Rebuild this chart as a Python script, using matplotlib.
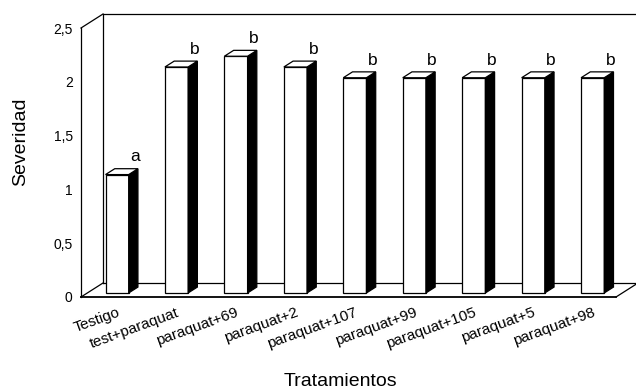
import matplotlib
matplotlib.use("Agg")
import matplotlib.pyplot as plt
from matplotlib.patches import Polygon, Rectangle

plt.rcParams['font.family'] = ['Liberation Sans', 'DejaVu Sans']

# datos
tratamientos = ["Testigo", "test+paraquat", "paraquat+69", "paraquat+2", "paraquat+107",
                "paraquat+99", "paraquat+105", "paraquat+5", "paraquat+98"]
severidad = [1.1, 2.1, 2.2, 2.1, 2.0, 2.0, 2.0, 2.0, 2.0]
letras = ["a", "b", "b", "b", "b", "b", "b", "b", "b"]
y_ticks = [0, 0.5, 1, 1.5, 2, 2.5]
y_tick_labels = ["0", "0,5", "1", "1,5", "2", "2,5"]

W, H = 636, 391
fig = plt.figure(figsize=(W / 100, H / 100), dpi=100)
ax = fig.add_axes([81 / W, 94 / H, 535 / W, 269 / H])
ax.set_xlim(-0.5, len(tratamientos) - 0.5)
ax.set_ylim(0, 2.5)

# fake 3d box depth (data units)
dx, dy = 0.37, 0.13
bw = 0.39          # bar front width
f0, f1 = 0.29, 0.71  # bar sits between these depth fractions
lw = 0.9
xr = len(tratamientos) - 0.5

# back wall + floor lines
wall = dict(color="black", lw=lw, clip_on=False, zorder=1)
ax.plot([-0.5 + dx, -0.5 + dx], [dy, 2.5 + dy], **wall)
ax.plot([-0.5 + dx, xr + dx], [2.5 + dy, 2.5 + dy], **wall)
ax.plot([-0.5, -0.5 + dx], [2.5, 2.5 + dy], **wall)
ax.plot([-0.5, -0.5 + dx], [0, dy], **wall)
ax.plot([-0.5 + dx, xr + dx], [dy, dy], **wall)
ax.plot([xr, xr + dx], [0, dy], **wall)

ddx, ddy = (f1 - f0) * dx, (f1 - f0) * dy
for i, v in enumerate(severidad):
    x0 = i - bw / 2 + f0 * dx
    y0 = f0 * dy
    ax.add_patch(Rectangle((x0, y0), bw, v, fc="white", ec="black", lw=lw, zorder=3))
    side = [(x0 + bw, y0), (x0 + bw + ddx, y0 + ddy), (x0 + bw + ddx, y0 + v + ddy), (x0 + bw, y0 + v)]
    ax.add_patch(Polygon(side, closed=True, fc="black", ec="black", lw=lw, zorder=3))
    top = [(x0, y0 + v), (x0 + bw, y0 + v), (x0 + bw + ddx, y0 + v + ddy), (x0 + ddx, y0 + v + ddy)]
    ax.add_patch(Polygon(top, closed=True, fc="white", ec="black", lw=lw, zorder=3, clip_on=False))
    ax.text(x0 + bw + ddx - 0.05, y0 + v + ddy + 0.04, letras[i], ha="center", va="bottom",
            fontsize=12.5, zorder=4)

for s in ["top", "right"]:
    ax.spines[s].set_visible(False)
ax.spines["left"].set_linewidth(lw)
ax.spines["bottom"].set_linewidth(1.3)

ax.set_yticks(y_ticks)
ax.set_yticklabels(y_tick_labels, fontsize=10)
ax.set_xticks([i + 0.1 for i in range(len(tratamientos))])
ax.set_xticklabels(tratamientos, fontsize=11, rotation=20, ha="right", rotation_mode="anchor")
ax.tick_params(axis="y", length=0, pad=6)
ax.tick_params(axis="x", length=0, pad=6)

ax.set_ylabel("Severidad", fontsize=14, va="center")
ax.yaxis.set_label_coords(-0.112, 0.576)
ax.set_xlabel("Tratamientos", fontsize=14, va="top")
ax.xaxis.set_label_coords(0.484, -0.283)

fig.savefig("out.png", dpi=100)
